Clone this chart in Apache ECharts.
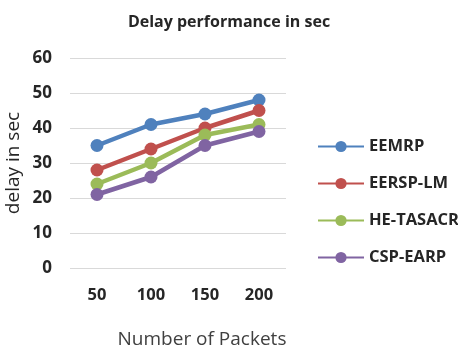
<!DOCTYPE html>
<html><head><meta charset="utf-8">
<script src="https://cdn.jsdelivr.net/npm/echarts@6/dist/echarts.min.js"></script>
<style>html,body{margin:0;padding:0;background:#fff}#c{width:458px;height:347px}</style>
</head><body><div id="c"></div>
<script>
const categories = ['50','100','150','200'];
const seriesNames = ['EEMRP','EERSP-LM','HE-TASACR','CSP-EARP'];
const eemrp = [35, 41, 44, 48];
const eersp = [28, 34, 40, 45];
const hetasacr = [24, 30, 38, 41];
const csp = [21, 26, 35, 39];
const colors = ['#4F81BD','#C0504D','#9BBB59','#8064A2'];
const values = [eemrp, eersp, hetasacr, csp];
const font = '"Open Sans", "Noto Sans", sans-serif';
const chart = echarts.init(document.getElementById('c'));
chart.setOption({
  animation: false,
  textStyle: {fontFamily: font},
  title: {text: 'Delay performance in sec', left: 'center', top: 9,
    textStyle: {fontSize: 16, fontWeight: 'bold', color: '#262626', fontFamily: font}},
  legend: {orient: 'vertical', left: 312, top: 133, itemGap: 20, itemWidth: 46, itemHeight: 14,
    data: seriesNames,
    textStyle: {fontSize: 16.5, fontWeight: 'bold', color: '#262626', fontFamily: font}},
  grid: {left: 70, right: 172, top: 58, bottom: 79, containLabel: false, outerBoundsMode: 'none'},
  xAxis: {type: 'category', data: categories, boundaryGap: true,
    axisLine: {show: false}, axisTick: {show: false},
    axisLabel: {fontSize: 16.5, fontWeight: 'bold', color: '#262626', margin: 19, fontFamily: font},
    name: 'Number of Packets', nameLocation: 'middle', nameGap: 62,
    nameTextStyle: {fontSize: 19, color: '#404040', fontFamily: font, padding: [0, 0, 0, 48]}},
  yAxis: {type: 'value', min: 0, max: 60, interval: 10,
    axisLine: {show: false}, axisTick: {show: false},
    splitLine: {lineStyle: {color: '#d9d9d9', width: 1}},
    axisLabel: {fontSize: 17, fontWeight: 'bold', color: '#262626', margin: 18, fontFamily: font},
    name: 'delay in sec', nameLocation: 'middle', nameGap: 47,
    nameTextStyle: {fontSize: 19, color: '#262626', fontFamily: font}},
  series: seriesNames.map((n, i) => ({
    name: n, type: 'line', data: values[i], symbol: 'circle', symbolSize: 13,
    lineStyle: {width: 4.5, color: colors[i]}, itemStyle: {color: colors[i]}
  }))
});
</script></body></html>
